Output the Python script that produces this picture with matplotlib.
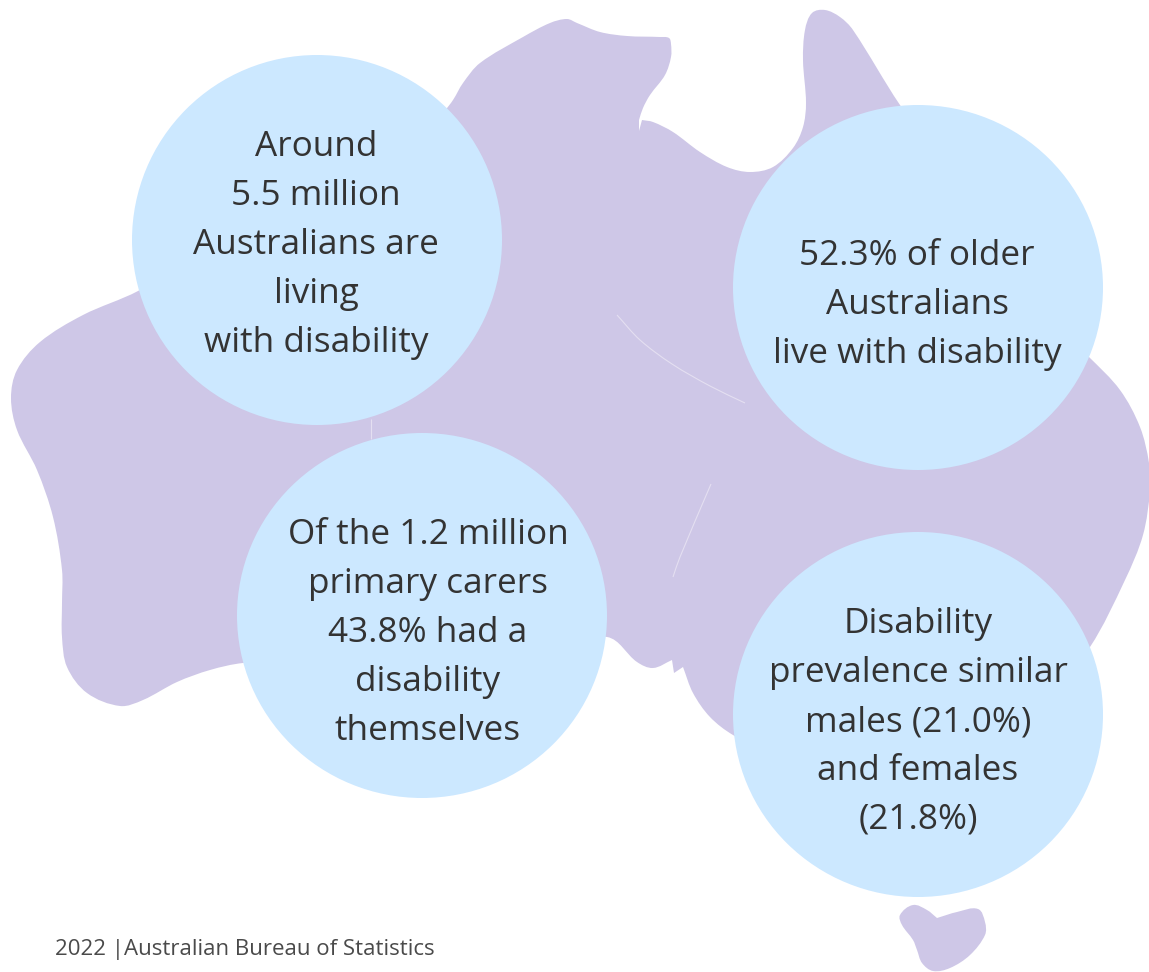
import numpy as np
import matplotlib
matplotlib.use("Agg")
from matplotlib import pyplot as plt
from matplotlib.path import Path
from matplotlib.patches import PathPatch, Ellipse

# outline runs of the map, split at the sharp corners
mainland_runs = [
    [(642, 120), (653, 122), (673, 132), (700, 152), (727, 167), (750, 172), (773, 167), (793, 148),
     (803, 127), (806, 103), (803, 60), (805, 30), (812, 13), (825, 10), (840, 17), (853, 30),
     (900, 105), (1050, 320), (1089, 357), (1120, 390), (1140, 427), (1149, 463), (1150, 490),
     (1143, 535), (1125, 580), (1090, 647), (1000, 770), (850, 800), (733, 735), (710, 717),
     (693, 693), (683, 667)],
    [(683, 667), (674, 673)],
    [(674, 673), (672, 660)],
    [(672, 660), (653, 668), (637, 662), (607, 637), (500, 640), (243, 663), (210, 670), (177, 682),
     (143, 700), (120, 706), (87, 693), (67, 667), (62, 637), (62, 603), (62, 570), (53, 517),
     (37, 470), (17, 430), (11, 398), (17, 370), (40, 342), (83, 315), (138, 291), (300, 200),
     (400, 150), (445, 110), (453, 100), (463, 83), (480, 63), (523, 37), (550, 23), (567, 19),
     (577, 23), (600, 32), (627, 36), (660, 37), (669, 38), (671, 44), (671, 57), (665, 75),
     (650, 95), (643, 108), (639, 120)],
    [(639, 120), (639, 131)],
    [(639, 131), (642, 120)],
]
tasmania_runs = [
    [(937, 918), (957, 912), (978, 909), (985, 922), (985, 935), (970, 955), (950, 968), (933, 971),
     (922, 963), (917, 950), (913, 940), (902, 925), (900, 915), (913, 905), (927, 910), (937, 918)],
]
# faint seams left inside the shape
seams = [
    [(617, 315), (640, 340), (672, 364), (710, 386), (745, 403)],
    [(711, 484), (680, 557), (673, 577)],
    [(371, 419), (371, 439)],
]

circle_x = [317, 918, 422, 918]
circle_y = [240, 287.5, 615.5, 714.5]
circle_h = [370, 365, 365, 365]
circle_labels = [
    "Around\n5.5 million\nAustralians are\nliving\nwith disability",
    "52.3% of older\nAustralians\nlive with disability",
    "Of the 1.2 million\nprimary carers\n43.8% had a\ndisability\nthemselves",
    "Disability\nprevalence similar\nmales (21.0%)\nand females\n(21.8%)",
]
label_x = [316, 917, 428, 918]
label_y = [245, 305, 633, 722]
footer = "2022 |Australian Bureau of Statistics"


def smooth_run(pts):
    # bezier segments through the traced points, handles scaled by segment length
    pts = np.array(pts, dtype=float)
    if len(pts) == 2:
        return [Path.LINETO], [pts[1]]
    tang = []
    for i in range(len(pts)):
        d = pts[min(i + 1, len(pts) - 1)] - pts[max(i - 1, 0)]
        tang.append(d / np.hypot(*d))
    codes, verts = [], []
    for i in range(len(pts) - 1):
        p1 = pts[i]
        p2 = pts[i + 1]
        h = np.hypot(*(p2 - p1)) / 3
        verts += [p1 + tang[i] * h, p2 - tang[i + 1] * h, p2]
        codes += [Path.CURVE4] * 3
    return codes, verts


def shape_path(runs):
    codes, verts = [Path.MOVETO], [runs[0][0]]
    for run in runs:
        c, v = smooth_run(run)
        codes += c
        verts += v
    codes.append(Path.CLOSEPOLY)
    verts.append(runs[0][0])
    return Path(verts, codes)


plt.rcParams['font.family'] = ['Open Sans', 'DejaVu Sans']

fig = plt.figure(figsize=(11.49, 9.72), dpi=100)
ax = fig.add_axes([0, 0, 1, 1])
ax.set_xlim(0, 1149)
ax.set_ylim(972, 0)
ax.axis("off")

map_color = "#CEC7E7"
ax.add_patch(PathPatch(shape_path(mainland_runs), fc=map_color, ec="none", zorder=1))
ax.add_patch(PathPatch(shape_path(tasmania_runs), fc=map_color, ec="none", zorder=1))

for seam in seams:
    c, v = smooth_run(seam)
    ax.add_patch(PathPatch(Path([seam[0]] + v, [Path.MOVETO] + c), fc="none", ec="#E4DFF1", lw=0.8, zorder=2))

for x, y, h in zip(circle_x, circle_y, circle_h):
    ax.add_patch(Ellipse((x, y), 370, h, fc="#CCE8FF", ec="none", zorder=3))

for lx, ly, label in zip(label_x, label_y, circle_labels):
    ax.text(lx, ly, label, ha="center", va="center", fontsize=25.3, color="#333333",
            linespacing=1.57, zorder=4)

ax.text(55, 949, footer, ha="left", va="center", fontsize=16, color="#4A4A4A", zorder=4)

fig.savefig("out.png", dpi=100)
